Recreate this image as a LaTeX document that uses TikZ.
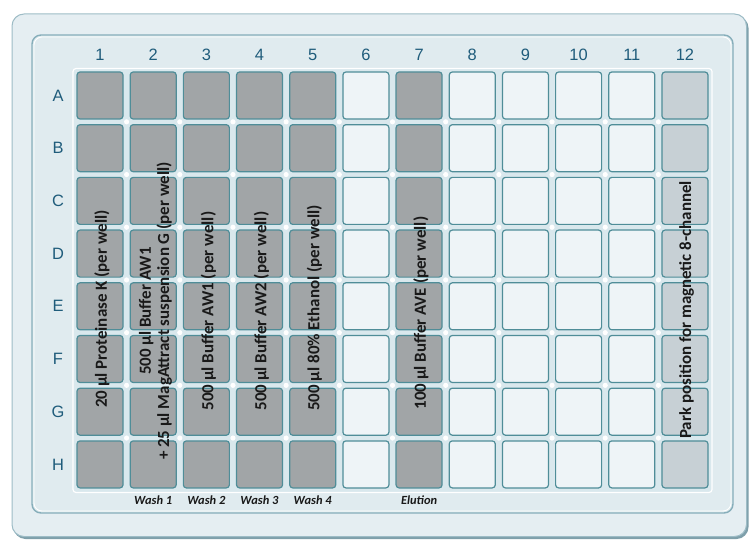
\documentclass[tikz,border=0pt]{standalone}
\usepackage{fontspec}
\setmainfont{Liberation Sans}
\newfontfamily\calfont{Carlito}
\definecolor{plate}{HTML}{E5EEF2}
\definecolor{plateedge}{HTML}{9DBCC6}
\definecolor{plateshadow}{HTML}{7E9FAA}
\definecolor{frame}{HTML}{E0EBEF}
\definecolor{frameedge}{HTML}{86AEBA}
\definecolor{gridbg}{HTML}{D9E8ED}
\definecolor{wellline}{HTML}{4F8D98}
\definecolor{darkwell}{HTML}{A1A5A7}
\definecolor{emptywell}{HTML}{EEF4F7}
\definecolor{parkwell}{HTML}{C7D0D5}
\definecolor{lbl}{HTML}{1F5C7B}
\tikzset{
  wellbox/.style={draw=wellline, line width=1.2bp, rounded corners=3bp,
    minimum width=46bp, minimum height=47bp, inner sep=0pt},
  dark/.style={fill=darkwell},
  empty/.style={fill=emptywell},
  park/.style={fill=parkwell},
  axislbl/.style={text=lbl, font=\fontsize{16.5}{16}\selectfont, inner sep=0pt},
  wtext/.style={rotate=90, align=center, inner sep=0pt, text=black!90,
    font=\calfont\bfseries\fontsize{17}{18.5}\selectfont},
  steplbl/.style={inner sep=0pt, text=black!90,
    font=\calfont\bfseries\itshape\fontsize{12.5}{13}\selectfont}
}
\begin{document}
\begin{tikzpicture}[x=1bp,y=-1bp]
\useasboundingbox (0,0) rectangle (754,540);
% outer plate with shadow
\fill[plateshadow, rounded corners=12bp] (13.5,16) rectangle (748.5,539);
\draw[plateedge, fill=plate, line width=1bp, rounded corners=12bp] (12,14) rectangle (746.5,536.5);
% inner frame
\draw[frameedge, fill=frame, line width=1.4bp, rounded corners=9bp] (32,35) rectangle (733,513);
\draw[white, line width=0.8bp, rounded corners=8bp] (34,37) rectangle (731,511);
% grid backdrop
\draw[white, fill=gridbg, line width=1.2bp, rounded corners=3bp] (73,68.5) rectangle (712,492.5);
% intersection highlights
\foreach \i in {1,...,11}{
  \foreach \j in {1,...,7}{
    \fill[white] ({100+(\i-1)*53.18+26.6},{95.5+(\j-1)*52.7+26.35}) circle (2.6bp);
  }
}
% wells
\foreach \c/\f in {1/dark,2/dark,3/dark,4/dark,5/dark,6/empty,7/dark,8/empty,9/empty,10/empty,11/empty,12/park}{
  \foreach \R [count=\r] in {A,B,C,D,E,F,G,H}{
    \node[wellbox,\f] (w\R\c) at ({100+(\c-1)*53.18},{95.5+(\r-1)*52.7}) {};
  }
  \node[axislbl] (col\c) at ({100+(\c-1)*53.18},55) {\c};
}
\foreach \R [count=\r] in {A,B,C,D,E,F,G,H}{
  \node[axislbl] (row\R) at (58,{95.5+(\r-1)*52.7}) {\R};
}
% rotated texts
\node[wtext] (t1) at (102,309) {20 µl Proteinase K (per well)};
\node[wtext] (t2) at (155.5,311) {500 µl Buffer AW1\\+ 25 µl MagAttract suspension G (per well)};
\node[wtext] (t3) at (208.5,311) {500 µl Buffer AW1 (per well)};
\node[wtext] (t4) at (261.5,311) {500 µl Buffer AW2 (per well)};
\node[wtext] (t5) at (314.5,308) {500 µl 80\% Ethanol (per well)};
\node[wtext] (t7) at (421,313) {100 µl Buffer AVE (per well)};
\node[wtext] (t12) at (686.5,310) {Park position for magnetic 8-channel};
% step labels
\node[steplbl] (s2) at (153.2,500) {Wash 1};
\node[steplbl] (s3) at (206.4,500) {Wash 2};
\node[steplbl] (s4) at (259.5,500) {Wash 3};
\node[steplbl] (s5) at (312.7,500) {Wash 4};
\node[steplbl] (s7) at (419.1,500) {Elution};
\end{tikzpicture}
\end{document}
